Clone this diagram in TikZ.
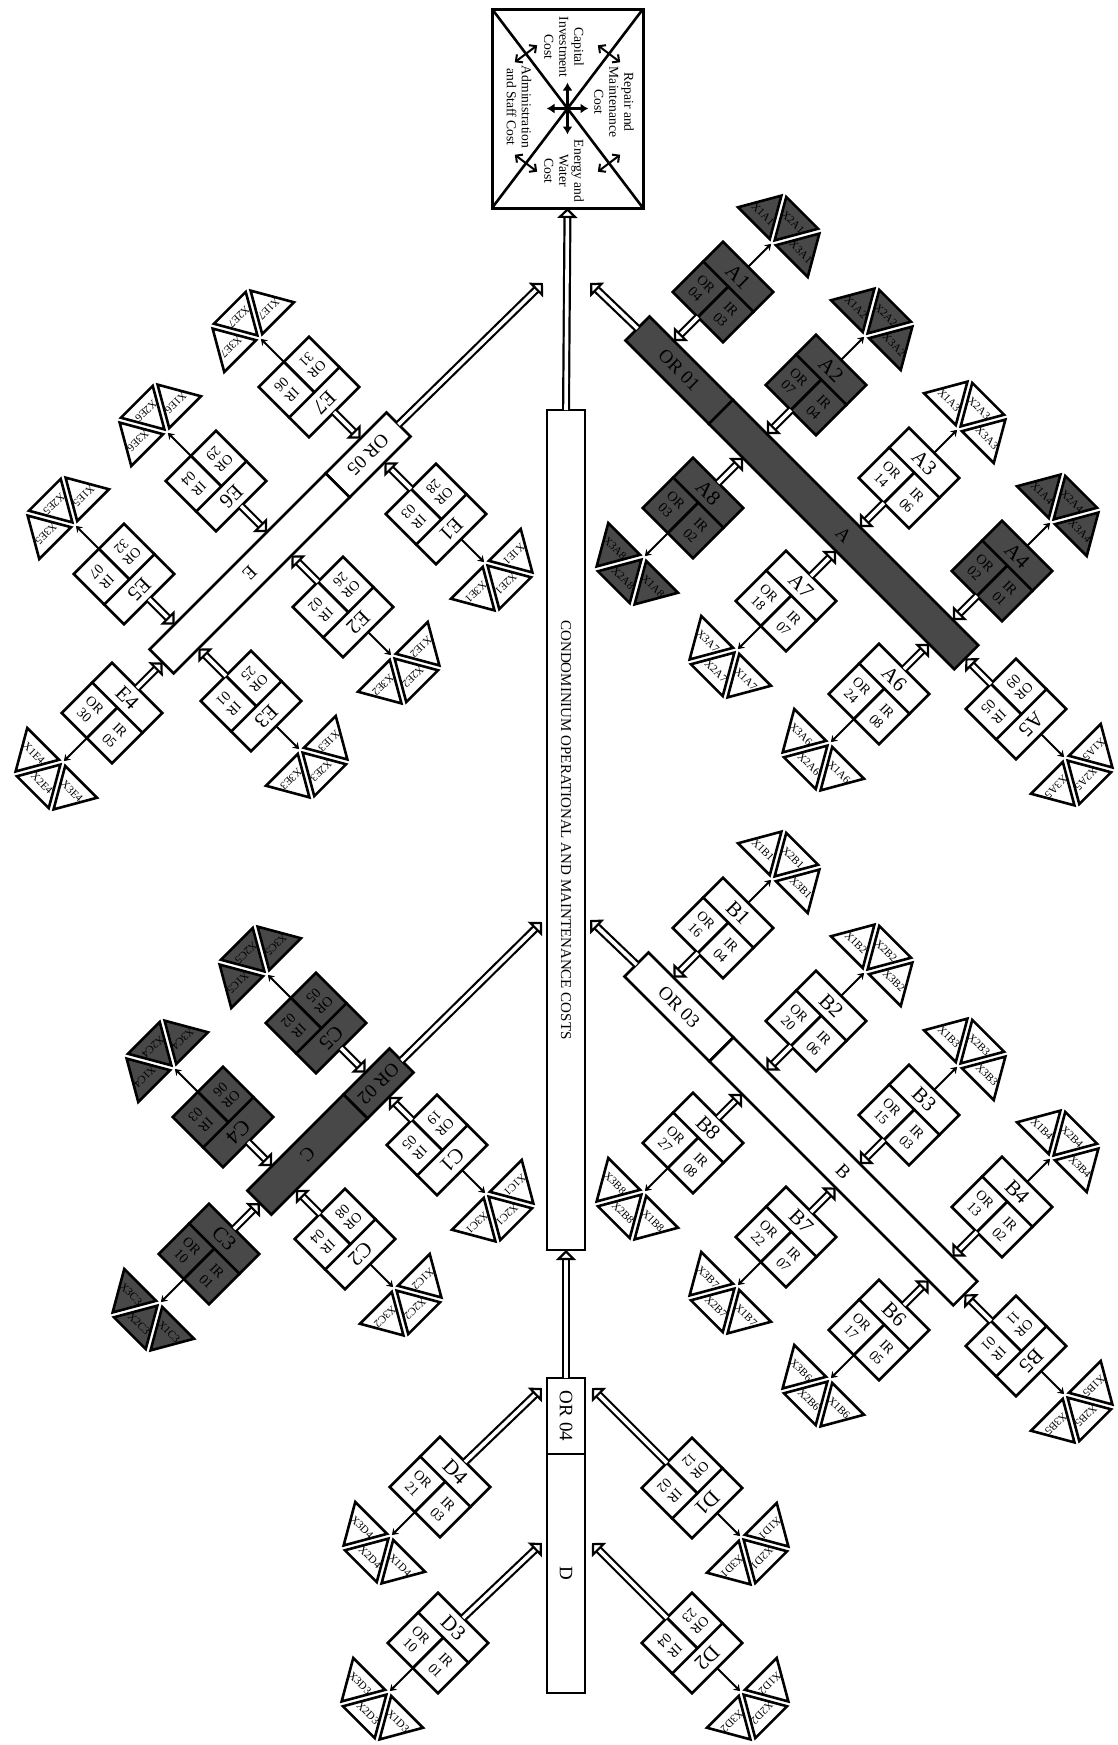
\documentclass[tikz,border=0pt]{standalone}
\usepackage{fontspec}
\setmainfont{Liberation Serif}
\usepackage{tikz}
\usetikzlibrary{positioning,arrows.meta,calc}
\definecolor{shade}{RGB}{72,72,72}

% one cost item: name, centre, rotation, fill, OR, IR, side of the leaves (90/-90), turn (1/-1)
\newcommand\leaf[8]{%
  \pgfmathsetmacro\hdang{#3+90}%
  \pgfmathsetmacro\lfang{#3+(#7)}%
  \pgfmathsetmacro\arang{#3-(#7)}%
  \coordinate (#1-c) at (#2);
  \node[hdr,fill=#4,rotate=#3] (#1) at ($(#1-c)+(\hdang:10.75pt)$) {#1};
  \node[cell,fill=#4,rotate=#3,anchor=north west] (#1-o) at (#1.south west) {OR\\#5};
  \node[cell,fill=#4,rotate=#3,anchor=north east] (#1-i) at (#1.south east) {IR\\#6};
  \coordinate (#1-a) at ($(#1-c)+(\arang:17.75pt)$);
  \coordinate (#1-b) at ($(#1-c)+(\lfang:17.75pt)$);
  \coordinate (#1-p) at ($(#1-c)+(\lfang:34pt)$);
  \draw[tie] (#1-b) -- (#1-p);
  \foreach \q in {1,2,3} {
    \pgfmathsetmacro\trang{\lfang+(#8)*60*(2-\q)}
    \coordinate (#1-t\q) at ($(#1-p)+(\trang:2.5pt)$);
    \draw[tri,fill=#4] (#1-t\q) -- ++(\trang-30:22.5pt) -- ++(\trang+90:22.5pt) -- cycle;
    \node[tlab,rotate=#3] (#1-x\q) at ($(#1-t\q)+(\trang:13pt)$) {X\q#1};
  }
}

\begin{document}
\begin{tikzpicture}[x=0.5pt,y=-0.5pt,
  hdr/.style={draw,line width=1.3pt,minimum width=35.5pt,minimum height=14pt,inner sep=0pt,outer sep=0pt,font=\fontsize{10.5}{10.5}\selectfont},
  cell/.style={draw,line width=1.3pt,minimum width=17.75pt,minimum height=21.5pt,inner sep=0pt,outer sep=0pt,align=center,font=\fontsize{7}{7.5}\selectfont},
  tri/.style={draw,line width=1.3pt},
  tlab/.style={inner sep=0pt,font=\fontsize{5.5}{5.5}\selectfont},
  tie/.style={line width=1pt,-{Stealth[length=3pt,width=4pt]}},
  bar/.style={draw,line width=1.3pt,minimum height=17pt,inner sep=0pt,outer sep=0pt,font=\fontsize{9.5}{10}\selectfont},
  col/.style={bar,minimum height=19pt},
  dbl/.style={double,double distance=1.8pt,line width=1.1pt,-{Triangle[fill=white,length=5pt,width=10pt,line width=1.1pt]}},
  hub/.style={line width=1.4pt,{Latex[length=4pt,width=5pt]}-{Latex[length=4pt,width=5pt]}},
  spoke/.style={line width=1pt,{Straight Barb[length=2.5pt,width=5pt]}-{Straight Barb[length=2.5pt,width=5pt]}},
  note/.style={rotate=-90,align=center,inner sep=0pt,font=\fontsize{6.8}{7.5}\selectfont},
]
  \useasboundingbox (0,0) rectangle (1118,1745);

  % cost categories
  \node[draw,line width=1.5pt,minimum width=75.5pt,minimum height=99.5pt,outer sep=0pt] (top) at (567.5,108.5) {};
  \draw[line width=1.3pt] (top.north west) -- (top.south east);
  \draw[line width=1.3pt] (top.north east) -- (top.south west);
  \draw[hub] ([yshift=13pt]top.center) -- ([yshift=-13pt]top.center);
  \draw[hub] ([xshift=-10.5pt]top.center) -- ([xshift=10.5pt]top.center);
  \foreach \c in {north east,north west,south west,south east} {
    \coordinate (m) at ($(top.center)!.55!(top.\c)$);
    \draw[spoke] ($(m)!7pt!90:(top.\c)$) -- ($(m)!7pt!-90:(top.\c)$);
  }
  \node[note] (capital) at (564,47) {Capital\\Investment\\Cost};
  \node[note] (repair) at (614,102) {Repair and\\Maintenance\\Cost};
  \node[note] (admin) at (519,107) {Administration\\and Staff Cost};
  \node[note] (energy) at (564,171) {Energy and\\Water\\Cost};

  \node[col,rotate=-90,minimum width=420pt,font=\fontsize{7.5}{8}\selectfont] (cost) at (566,830) {CONDOMINIUM OPERATIONAL AND MAINTENANCE COSTS};

  % bars
  \node[bar,fill=shade,rotate=-45,minimum width=59pt,anchor=west] (orA) at (637.5,328.5) {OR 01};
  \node[bar,fill=shade,rotate=-45,minimum width=173.5pt,anchor=west] (barA) at (orA.east) {A};
  \node[bar,rotate=-45,minimum width=60pt,anchor=west] (orB) at (636.5,964.5) {OR 03};
  \node[bar,rotate=-45,minimum width=172.5pt,anchor=west] (barB) at (orB.east) {B};
  \node[bar,rotate=225,minimum width=43pt,anchor=west] (orE) at (398.5,424.5) {OR 05};
  \node[bar,rotate=225,minimum width=124.5pt,anchor=west] (barE) at (orE.east) {E};
  \node[bar,fill=shade,rotate=225,minimum width=32.5pt,anchor=west] (orC) at (401.5,1060.5) {OR 02};
  \node[bar,fill=shade,rotate=225,minimum width=68pt,anchor=west] (barC) at (orC.east) {C};
  \node[col,rotate=-90,minimum width=38pt,anchor=west] (orD) at (566,1378) {OR 04};
  \node[col,rotate=-90,minimum width=119.5pt,anchor=west] (barD) at (orD.east) {D};

  \coordinate (inA) at (590,283);
  \coordinate (inE) at (543,283);
  \coordinate (inB) at (590,920);
  \coordinate (inC) at (542,922);
  \coordinate (inD1) at (592,1388);
  \coordinate (inD2) at (592,1543);
  \coordinate (inD3) at (542,1543);
  \coordinate (inD4) at (542,1388);

  \draw[dbl] (cost.west) -- (top.south);
  \draw[dbl] (orD.west) -- (cost.east);
  \draw[dbl] (orA.west) -- (inA);
  \draw[dbl] (orE.west) -- (inE);
  \draw[dbl] (orB.west) -- (inB);
  \draw[dbl] (orC.west) -- (inC);

  % items
  \leaf{A1}{723,292}{-45}{shade}{04}{03}{90}{1}
  \leaf{A2}{816,385}{-45}{shade}{07}{04}{90}{1}
  \leaf{A3}{909,478}{-45}{white}{14}{06}{90}{1}
  \leaf{A4}{1002,571}{-45}{shade}{02}{01}{90}{1}
  \leaf{A5}{1016,709}{225}{white}{09}{05}{90}{1}
  \leaf{A6}{879,694}{-45}{white}{24}{08}{-90}{1}
  \leaf{A7}{786,601}{-45}{white}{18}{07}{-90}{1}
  \leaf{A8}{693,508}{-45}{shade}{03}{02}{-90}{1}

  \leaf{B1}{723,928}{-45}{white}{16}{04}{90}{1}
  \leaf{B2}{816,1021}{-45}{white}{20}{06}{90}{1}
  \leaf{B3}{909,1115}{-45}{white}{15}{03}{90}{1}
  \leaf{B4}{1002,1207}{-45}{white}{13}{02}{90}{1}
  \leaf{B5}{1016,1346}{225}{white}{11}{01}{90}{1}
  \leaf{B6}{879,1330}{-45}{white}{17}{05}{-90}{1}
  \leaf{B7}{786,1237}{-45}{white}{22}{07}{-90}{1}
  \leaf{B8}{693,1143}{-45}{white}{27}{08}{-90}{1}

  \leaf{E1}{436,514}{225}{white}{28}{03}{90}{1}
  \leaf{E2}{343,607}{225}{white}{26}{02}{90}{1}
  \leaf{E3}{251,701}{225}{white}{25}{01}{90}{1}
  \leaf{E4}{112,713}{-45}{white}{30}{05}{-90}{-1}
  \leaf{E5}{124,574}{225}{white}{32}{07}{-90}{-1}
  \leaf{E6}{216,481}{225}{white}{29}{04}{-90}{-1}
  \leaf{E7}{309,387}{225}{white}{31}{06}{-90}{-1}

  \leaf{C1}{437,1145}{225}{white}{19}{05}{90}{1}
  \leaf{C2}{345,1239}{225}{white}{08}{04}{90}{1}
  \leaf{C3}{209,1254}{-45}{shade}{10}{01}{-90}{1}
  \leaf{C4}{223,1117}{225}{shade}{06}{03}{-90}{1}
  \leaf{C5}{316,1023}{225}{shade}{05}{02}{-90}{1}

  \leaf{D1}{692,1488}{225}{white}{12}{02}{90}{1}
  \leaf{D2}{692,1643}{225}{white}{23}{04}{90}{1}
  \leaf{D3}{438,1643}{-45}{white}{10}{01}{-90}{1}
  \leaf{D4}{440,1487}{-45}{white}{21}{03}{-90}{1}

  % items into their bars
  \foreach \n in {A1,A2,A3,A4} \draw[dbl] (\n-a) -- ($(orA.north west)!(\n-a)!(barA.north east)$);
  \foreach \n in {A6,A7,A8} \draw[dbl] (\n-a) -- ($(orA.south west)!(\n-a)!(barA.south east)$);
  \draw[dbl] (A5-a) -- ($(barA.north east)!(A5-a)!(barA.south east)$);
  \foreach \n in {B1,B2,B3,B4} \draw[dbl] (\n-a) -- ($(orB.north west)!(\n-a)!(barB.north east)$);
  \foreach \n in {B6,B7,B8} \draw[dbl] (\n-a) -- ($(orB.south west)!(\n-a)!(barB.south east)$);
  \draw[dbl] (B5-a) -- ($(barB.north east)!(B5-a)!(barB.south east)$);
  \foreach \n in {E1,E2,E3} \draw[dbl] (\n-a) -- ($(orE.north west)!(\n-a)!(barE.north east)$);
  \foreach \n in {E5,E6,E7} \draw[dbl] (\n-a) -- ($(orE.south west)!(\n-a)!(barE.south east)$);
  \draw[dbl] (E4-a) -- ($(barE.north east)!(E4-a)!(barE.south east)$);
  \foreach \n in {C1,C2} \draw[dbl] (\n-a) -- ($(orC.north west)!(\n-a)!(barC.north east)$);
  \foreach \n in {C4,C5} \draw[dbl] (\n-a) -- ($(orC.south west)!(\n-a)!(barC.south east)$);
  \draw[dbl] (C3-a) -- ($(barC.north east)!(C3-a)!(barC.south east)$);
  \foreach \n in {D1,D2,D3,D4} \draw[dbl] (\n-a) -- (in\n);
\end{tikzpicture}
\end{document}
